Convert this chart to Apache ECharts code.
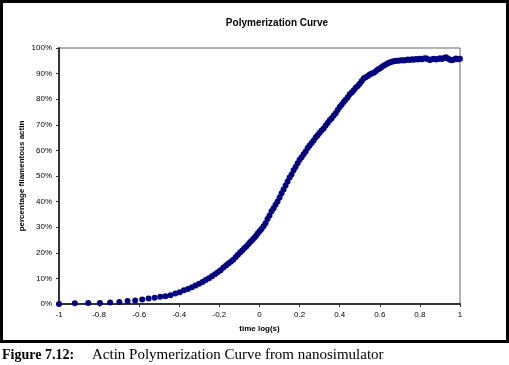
<!DOCTYPE html>
<html>
<head>
<meta charset="utf-8">
<script src="https://cdn.jsdelivr.net/npm/echarts@6/dist/echarts.min.js"></script>
<style>
html,body{margin:0;padding:0;background:#fff;}
#c{width:509px;height:365px;}
</style>
</head>
<body>
<div id="c"></div>
<script>
var chartTitle = 'Polymerization Curve';
var xAxisName = 'time log(s)';
var yAxisName = 'percentage filamentous actin';
var captionBold = 'Figure 7.12:';
var captionText = 'Actin Polymerization Curve from nanosimulator';
var xTicks = [-1, -0.8, -0.6, -0.4, -0.2, 0, 0.2, 0.4, 0.6, 0.8, 1];
var yTicks = [0, 10, 20, 30, 40, 50, 60, 70, 80, 90, 100];

var logTime = [
 -1.000,-0.921,-0.854,-0.796,-0.745,-0.699,-0.658,-0.620,-0.585,-0.553,
 -0.523,-0.495,-0.469,-0.444,-0.420,-0.398,-0.377,-0.357,-0.337,-0.319,
 -0.301,-0.284,-0.268,-0.252,-0.237,-0.222,-0.208,-0.194,-0.180,-0.167,
 -0.155,-0.143,-0.131,-0.119,-0.108,-0.097,-0.086,-0.076,-0.066,-0.056,
 -0.046,-0.036,-0.027,-0.018,-0.009,0.000,
 0.01,0.02,0.03,0.04,0.05,0.06,0.07,0.08,0.09,0.10,
 0.11,0.12,0.13,0.14,0.15,0.16,0.17,0.18,0.19,0.20,
 0.21,0.22,0.23,0.24,0.25,0.26,0.27,0.28,0.29,0.30,
 0.31,0.32,0.33,0.34,0.35,0.36,0.37,0.38,0.39,0.40,
 0.41,0.42,0.43,0.44,0.45,0.46,0.47,0.48,0.49,0.50,
 0.51,0.52,0.53,0.54,0.55,0.56,0.57,0.58,0.59,0.60,
 0.61,0.62,0.63,0.64,0.65,0.66,0.67,0.68,0.69,0.70,
 0.71,0.72,0.73,0.74,0.75,0.76,0.77,0.78,0.79,0.80,
 0.81,0.82,0.83,0.84,0.85,0.86,0.87,0.88,0.89,0.90,
 0.91,0.92,0.93,0.94,0.95,0.96,0.97,0.98,0.99,1.00
];
var percentFilamentous = [
 0.0,0.3,0.4,0.4,0.6,0.8,1.2,1.4,1.8,2.1,
 2.4,2.8,3.0,3.4,4.1,4.6,5.4,5.9,6.5,7.2,
 7.9,8.6,9.4,10.1,10.8,11.6,12.4,13.2,14.3,15.0,
 15.8,16.5,17.3,18.3,19.2,20.1,20.9,21.8,22.5,23.3,
 24.2,25.0,25.8,26.6,27.5,28.4,
 29.3,30.4,31.5,33.2,34.6,36.2,37.4,38.8,40.0,41.6,
 43.3,44.7,46.3,47.9,49.4,50.6,52.2,53.5,55.0,56.3,
 57.3,58.5,59.6,60.9,61.9,62.9,63.9,65.0,65.9,66.9,
 67.8,68.6,69.7,70.7,71.8,72.6,73.6,74.5,75.8,77.0,
 77.8,78.9,79.8,80.8,81.9,82.6,83.5,84.5,85.2,86.0,
 87.1,88.2,88.6,89.1,89.6,90.0,90.3,90.9,91.6,92.0,
 92.6,93.2,93.6,94.0,94.3,94.6,94.8,95.0,95.0,95.1,
 95.2,95.1,95.3,95.5,95.3,95.6,95.4,95.7,95.5,95.8,
 95.6,95.9,96.0,95.6,95.3,95.6,95.8,95.5,95.7,96.0,
 95.7,96.1,96.4,95.9,95.4,95.2,95.5,95.9,95.6,95.8
];

var points = logTime.map(function (x, i) { return [x, percentFilamentous[i]]; });
var chart = echarts.init(document.getElementById('c'), null, {renderer: 'canvas'});
var labelFont = 'Arial, "Liberation Sans", sans-serif';
var serifFont = '"Liberation Serif", "Times New Roman", serif';
chart.setOption({
  animation: false,
  backgroundColor: '#fff',
  title: {
    text: chartTitle, left: 272, top: 13, textAlign: 'center',
    textStyle: {fontFamily: labelFont, fontSize: 10, fontWeight: 'bold', color: '#000'}
  },
  grid: {left: 59, right: 49, top: 48, bottom: 61, show: true, borderColor: '#666', borderWidth: 1, backgroundColor: '#fff'},
  xAxis: {
    type: 'value', min: xTicks[0], max: xTicks[xTicks.length - 1], interval: 0.2,
    name: xAxisName, nameLocation: 'middle', nameGap: 21,
    nameTextStyle: {fontFamily: labelFont, fontSize: 8, fontWeight: 'bold', color: '#000'},
    axisLine: {show: true, onZero: false, lineStyle: {color: '#333', width: 2}},
    axisTick: {show: true, inside: false, length: 3, lineStyle: {color: '#333'}},
    splitLine: {show: false},
    axisLabel: {fontFamily: labelFont, fontSize: 8, color: '#000', margin: 7,
      formatter: function (v) { var r = Math.round(v * 10) / 10; return xTicks.indexOf(r) >= 0 ? String(r) : ''; }}
  },
  yAxis: {
    type: 'value', min: yTicks[0], max: yTicks[yTicks.length - 1], interval: 10,
    axisLine: {show: true, onZero: false, lineStyle: {color: '#333', width: 2}},
    axisTick: {show: true, inside: false, length: 3, lineStyle: {color: '#333'}},
    splitLine: {show: false},
    axisLabel: {fontFamily: labelFont, fontSize: 8, color: '#000', margin: 7,
      formatter: function (v) { return v + '%'; }}
  },
  series: [{
    type: 'scatter', data: points, symbol: 'circle', symbolSize: 6,
    itemStyle: {color: '#000080', opacity: 1}
  }],
  graphic: [
    {type: 'rect', z: 100, shape: {x: 1.5, y: 1.5, width: 506, height: 340},
     style: {fill: null, stroke: '#000', lineWidth: 3}},
    {type: 'text', z: 100, x: 22, y: 176, rotation: Math.PI / 2,
     style: {text: yAxisName, fontFamily: labelFont, fontSize: 8, fontWeight: 'bold', fill: '#000',
             align: 'center', verticalAlign: 'middle'}},
    {type: 'text', z: 100, left: 2, top: 348,
     style: {text: captionBold, fontFamily: serifFont, fontSize: 14, fontWeight: 'bold', fill: '#000'}},
    {type: 'text', z: 100, left: 92, top: 348,
     style: {text: captionText, fontFamily: serifFont, fontSize: 15, fill: '#000'}}
  ]
});
</script>
</body>
</html>
